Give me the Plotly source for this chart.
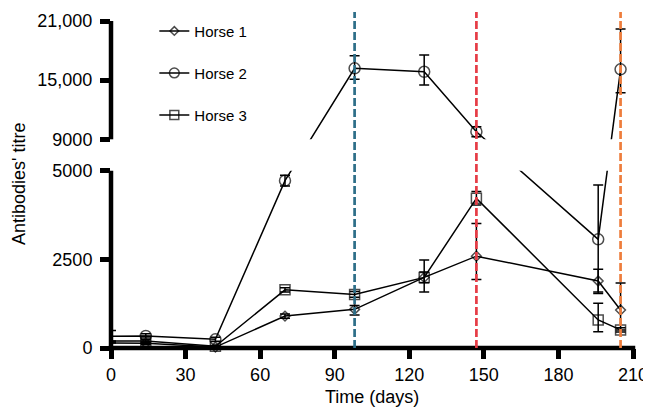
import plotly.graph_objects as go

# ---------------- data ----------------
days = [0, 14, 42, 70, 98, 126, 147, 196, 205]

horse1 = [140, 135, 25, 900, 1090, 1990, 2590, 1890, 1070]
horse1_plus = [0, 30, 20, 60, 110, 150, 920, 330, 760]
horse1_minus = [0, 30, 20, 60, 160, 150, 660, 310, 560]

horse2 = [330, 340, 245, 4720, 16200, 15850, 9770, 3065, 16100]
horse2_plus = [160, 60, 60, 150, 1280, 1690, 510, 1530, 4090]
horse2_minus = [160, 60, 60, 150, 1120, 1350, 510, 1530, 2370]

horse3 = [200, 200, 50, 1640, 1510, 1990, 4220, 790, 510]
horse3_plus = [0, 30, 20, 60, 80, 490, 190, 470, 60]
horse3_minus = [0, 30, 20, 60, 80, 410, 190, 330, 60]

series_names = ["Horse 1", "Horse 2", "Horse 3"]
event_days = [98, 147, 205]
event_colors = ["#2d6e88", "#e63c46", "#ee7d3c"]

x_ticks = [0, 30, 60, 90, 120, 150, 180, 210]
y_ticks = [0, 2500, 5000, 9000, 15000, 21000]
y_tick_labels = ["0", "2500", "5000", "9000", "15,000", "21,000"]

# ---------------- broken-axis scale ----------------
LOW_TOP, HIGH_BOT, HIGH_TOP = 5000, 9000, 21000
SEG_LOW, SEG_GAP, SEG_HIGH = 177.3, 31.4, 118.3   # relative lengths of the axis segments
AXIS_TOP = 336.0


def scale(v):
    if v <= LOW_TOP:
        return v / LOW_TOP * SEG_LOW
    if v < HIGH_BOT:
        return SEG_LOW + (v - LOW_TOP) / (HIGH_BOT - LOW_TOP) * SEG_GAP
    return SEG_LOW + SEG_GAP + (v - HIGH_BOT) / (HIGH_TOP - HIGH_BOT) * SEG_HIGH


FONT = "Liberation Sans, Arial, Helvetica, sans-serif"

fig = go.Figure()

symbols = ["diamond-open", "circle-open", "square-open"]
sizes = [7.5, 11, 10]
all_vals = [horse1, horse2, horse3]
all_plus = [horse1_plus, horse2_plus, horse3_plus]
all_minus = [horse1_minus, horse2_minus, horse3_minus]

for name, vals, plus, minus, sym, sz in zip(series_names, all_vals, all_plus, all_minus, symbols, sizes):
    ys = [scale(v) for v in vals]
    ep = [scale(v + p) - scale(v) for v, p in zip(vals, plus)]
    em = [scale(v) - scale(v - m) for v, m in zip(vals, minus)]
    msize = [0 if d == 0 else sz for d in days]
    fig.add_trace(go.Scatter(
        x=days, y=ys, name=name, legendgroup=name,
        mode="lines+markers",
        line=dict(color="black", width=1.5),
        marker=dict(symbol=sym, size=msize, color="black", line=dict(color="black", width=1.5)),
        error_y=dict(type="data", symmetric=False, array=ep, arrayminus=em,
                     color="black", thickness=1.5, width=5),
        cliponaxis=False,
    ))

shapes = []
# gap of the broken axis hides the lines crossing it
shapes.append(dict(type="rect", xref="paper", yref="y", x0=0, x1=1.01,
                   y0=scale(LOW_TOP), y1=scale(HIGH_BOT),
                   fillcolor="white", line=dict(width=0), layer="above"))
# axis lines
shapes.append(dict(type="line", xref="paper", yref="paper", x0=-0.0043, x1=1.0043, y0=0, y1=0,
                   line=dict(color="black", width=4.5), layer="above"))
shapes.append(dict(type="line", xref="paper", yref="y", x0=0, x1=0,
                   y0=scale(0), y1=scale(LOW_TOP), line=dict(color="black", width=4.5), layer="above"))
shapes.append(dict(type="line", xref="paper", yref="y", x0=0, x1=0,
                   y0=scale(HIGH_BOT), y1=scale(HIGH_TOP), line=dict(color="black", width=4.5), layer="above"))
# event lines
for d, c in zip(event_days, event_colors):
    shapes.append(dict(type="line", xref="x", yref="paper", x0=d, x1=d, y0=0, y1=1,
                       line=dict(color=c, width=2.7, dash="8px,3px"), layer="above"))

# the page places the figure 8 px from the window's top-left corner
fig.update_layout(
    width=643, height=401,
    margin=dict(l=103, r=18, t=4, b=61),
    paper_bgcolor="white", plot_bgcolor="white",
    font=dict(family=FONT, color="black", size=18),
    showlegend=True,
    legend=dict(x=0.083, y=0.992, xanchor="left", yanchor="top",
                font=dict(size=15, family=FONT), bgcolor="rgba(0,0,0,0)",
                traceorder="grouped", tracegroupgap=19.5),
    shapes=shapes,
    annotations=[
        dict(text="Time (days)", xref="paper", yref="paper", x=0.5, y=-0.1458,
             xanchor="center", yanchor="middle", showarrow=False, font=dict(size=18)),
        dict(text="Antibodies' titre", xref="paper", yref="paper", x=-0.1762, y=0.488,
             xanchor="center", yanchor="middle", textangle=-90, showarrow=False, font=dict(size=18)),
    ],
)

fig.update_xaxes(range=[0, 210], tickvals=x_ticks, ticktext=[str(v) for v in x_ticks],
                 ticks="outside", ticklen=10, tickwidth=4.5, tickcolor="black",
                 showline=False, showgrid=False, zeroline=False,
                 tickfont=dict(size=18, family=FONT))
fig.update_yaxes(range=[0, AXIS_TOP], tickvals=[scale(v) for v in y_ticks], ticktext=y_tick_labels,
                 ticks="outside", ticklen=10, tickwidth=4.5, tickcolor="black",
                 showline=False, showgrid=False, zeroline=False, ticklabelstandoff=4,
                 tickfont=dict(size=18, family=FONT))

fig.write_html("out.html")
